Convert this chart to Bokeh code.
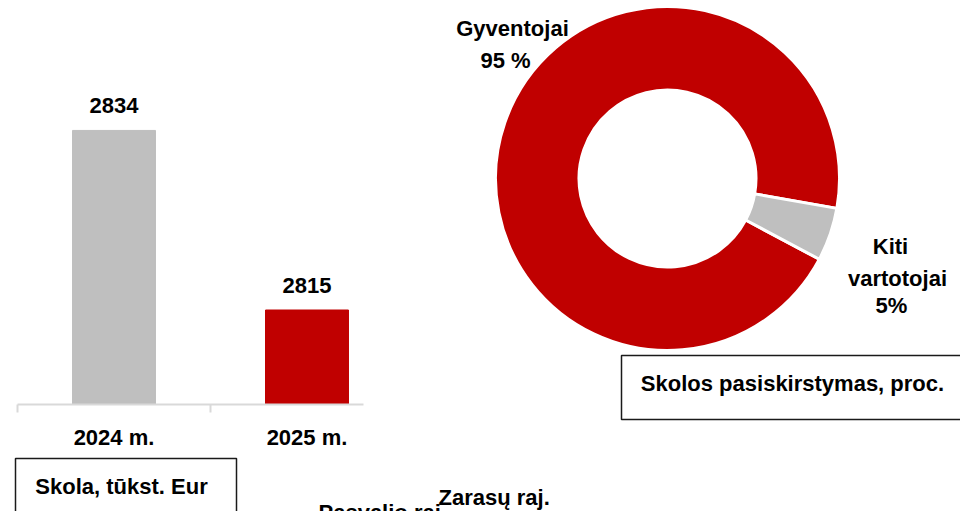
from bokeh.plotting import figure
from bokeh.models import Range1d, LinearAxis, FixedTicker, ColumnDataSource
from bokeh.core.properties import value
from bokeh.embed import file_html
from bokeh.resources import INLINE
import math

# ---- data ----
years = ["2024 m.", "2025 m."]
debt = [2834, 2815]
bar_colors = ["#BFBFBF", "#C00000"]
axis_min = 2805

pie_labels = ["Gyventojai", "Kiti vartotojai"]
pie_values = [95, 5]
pie_colors = ["#C00000", "#BFBFBF"]

FONT_NAME = "Liberation Sans"
FONT = value(FONT_NAME)
FS = "22px"

# ---- layout geometry (page pixels) ----
W, H = 960, 511
OX, OY = 0, 0
tick0_px = 17          # page x of first category boundary
cat_px = 193           # pixels per category
base_px = 404          # page y of bar baseline
unit_px = 9.45         # pixels per thousand eur

x0 = (OX - tick0_px) / cat_px
x1 = (OX + W - tick0_px) / cat_px
y0 = axis_min - (OY + H - base_px) / unit_px
y1 = axis_min + (base_px - OY) / unit_px

p = figure(width=W, height=H, output_backend="svg", toolbar_location=None,
           x_range=Range1d(x0, x1), y_range=Range1d(y0, y1),
           x_axis_location=None, y_axis_location=None, min_border=0,
           outline_line_color=None, background_fill_color="white",
           border_fill_color="white")
p.grid.visible = False
p.extra_x_ranges = {"px": Range1d(OX, OX + W)}
p.extra_y_ranges = {"py": Range1d(-(OY + H), -OY)}

# ---- bars ----
xs = [i + 0.5 for i in range(len(years))]
src = ColumnDataSource(dict(x=xs, top=debt, color=bar_colors,
                            lab=[str(v) for v in debt]))
p.vbar(x="x", top="top", bottom=axis_min, width=0.43, color="color", source=src)
p.text(x="x", y="top", text="lab", source=src, y_offset=-25,
       text_align="center", text_baseline="middle", text_font=FONT,
       text_font_style="bold", text_font_size=FS, text_color="black")

# axis line with ticks
ticks = list(range(len(years)))
ax = LinearAxis(fixed_location=axis_min, bounds=(0, (363 - tick0_px) / cat_px),
                ticker=FixedTicker(ticks=ticks),
                major_label_overrides={t: "" for t in ticks},
                axis_line_color="#D9D9D9", axis_line_width=2,
                major_tick_line_color="#D9D9D9", major_tick_line_width=2,
                major_tick_in=0, major_tick_out=8, minor_tick_line_color=None)
p.add_layout(ax, "below")
# category labels
ax2 = LinearAxis(fixed_location=axis_min,
                 ticker=FixedTicker(ticks=xs),
                 major_label_overrides={x: t for x, t in zip(xs, years)},
                 axis_line_color=None, major_tick_line_color=None,
                 minor_tick_line_color=None, major_label_standoff=14,
                 major_label_text_font=FONT_NAME,
                 major_label_text_font_style="bold",
                 major_label_text_font_size=FS, major_label_text_color="black")
p.add_layout(ax2, "below")

# ---- donut ----
total = sum(pie_values)
start = math.radians(-10)
angles = []
a = start
for v in pie_values:
    angles.append(a)
    a += 2 * math.pi * v / total
ends = angles[1:] + [angles[0] + 2 * math.pi]
pie = ColumnDataSource(dict(s=angles, e=ends, color=pie_colors))
p.annular_wedge(x=667, y=-178, inner_radius=88.5, outer_radius=172,
                inner_radius_units="screen", outer_radius_units="screen",
                start_angle="s", end_angle="e", fill_color="color",
                line_color="white", line_width=3, source=pie,
                x_range_name="px", y_range_name="py")

txt = dict(text_align="center", text_baseline="middle", text_font=FONT,
           text_font_style="bold", text_font_size=FS, text_color="black",
           x_range_name="px", y_range_name="py")
p.text(x=[512, 505], y=[-28, -60], text=[pie_labels[0], f"{pie_values[0]} %"], **txt)
p.text(x=[890, 897, 891], y=[-246, -278, -305],
       text=["Kiti", "vartotojai", f"{pie_values[1]}%"], **txt)

# ---- caption boxes ----
p.quad(left=[15, 621], right=[236, 975], top=[-458, -355], bottom=[-530, -419],
       fill_color="white", line_color="#1A1A1A", line_width=1.5,
       x_range_name="px", y_range_name="py")
p.text(x=[121, 792], y=[-486, -383],
       text=["Skola, tūkst. Eur", "Skolos pasiskirstymas, proc."], **txt)

# ---- partially visible labels of the next chart ----
p.text(x=[318, 438], y=[-512, -497], text=["Pasvalio raj.", "Zarasų raj."],
       text_align="left", text_baseline="alphabetic", text_font=FONT,
       text_font_style="bold", text_font_size=FS, text_color="black",
       x_range_name="px", y_range_name="py")

open("out.html", "w").write(file_html(p, INLINE))
